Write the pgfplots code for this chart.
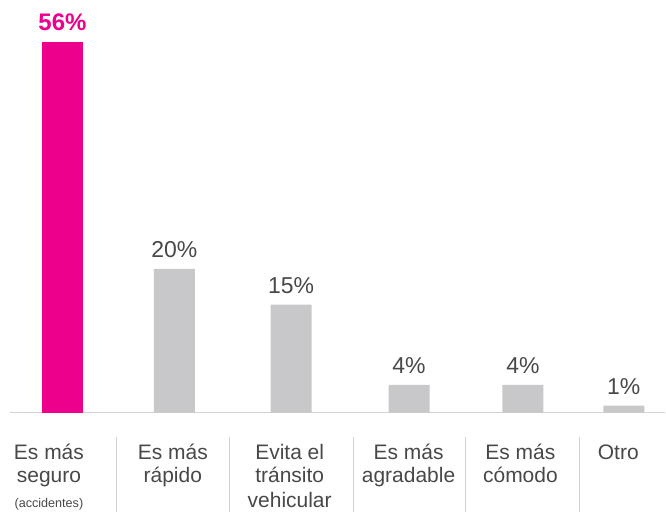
\documentclass[border=0pt]{standalone}
\usepackage{pgfplots}
\pgfplotsset{compat=1.18}
\usepackage{fontspec}
\setmainfont{Liberation Sans}
\definecolor{mag}{HTML}{EC008C}
\definecolor{barg}{HTML}{C8C8CA}
\definecolor{txt}{HTML}{484848}
\definecolor{linec}{HTML}{D2D2D2}
\begin{document}
\begin{tikzpicture}
\begin{axis}[
 width=333pt, height=256.5pt, scale only axis,
 xmin=0, xmax=666, ymin=-15.09, ymax=62.34,
 axis lines=none, clip=false,
 point meta=explicit symbolic,
 nodes near coords,
 every node near coord/.append style={anchor=base, yshift=5.5pt, inner sep=0pt, font=\fontsize{11.5}{12}\selectfont, text=txt},
]
\path (rel axis cs:0,0) rectangle (rel axis cs:1,1);
\draw[linec, line width=0.75pt] (axis cs:10,0) -- (axis cs:666,0);
\addplot[ybar, bar width=41, bar shift=0pt, fill=mag, draw=none,
  every node near coord/.append style={font=\bfseries\fontsize{12}{13}\selectfont, text=mag}]
  coordinates {(62.5,56) [56\%]};
\addplot[ybar, bar width=41, bar shift=0pt, fill=barg, draw=none]
  coordinates {(174.5,21.7) [20\%] (291.5,16.3) [15\%] (409.5,4.2) [4\%] (523.5,4.2) [4\%] (624.5,1.05) [1\%]};
\draw[linec, line width=0.6pt] (axis cs:116.5,-3.62) -- (axis cs:116.5,-15.09);
\draw[linec, line width=0.6pt] (axis cs:229.5,-3.62) -- (axis cs:229.5,-15.09);
\draw[linec, line width=0.6pt] (axis cs:353.5,-3.62) -- (axis cs:353.5,-15.09);
\draw[linec, line width=0.6pt] (axis cs:466,-3.62) -- (axis cs:466,-15.09);
\draw[linec, line width=0.6pt] (axis cs:580,-3.62) -- (axis cs:580,-15.09);
\tikzset{lab/.style={anchor=base, inner sep=0pt, text=txt, font=\fontsize{10.5}{12}\selectfont}}
\node[lab, yshift=-23.5pt] at (axis cs:49,0) {Es más};
\node[lab, yshift=-35pt] at (axis cs:49,0) {seguro};
\node[lab, yshift=-47.5pt, font=\fontsize{6.3}{7}\selectfont] at (axis cs:49,0) {(accidentes)};
\node[lab, yshift=-23.5pt] at (axis cs:173,0) {Es más};
\node[lab, yshift=-35pt] at (axis cs:173,0) {rápido};
\node[lab, yshift=-23.5pt] at (axis cs:290,0) {Evita el};
\node[lab, yshift=-35pt] at (axis cs:290,0) {tránsito};
\node[lab, yshift=-47.5pt] at (axis cs:290,0) {vehicular};
\node[lab, yshift=-23.5pt] at (axis cs:409,0) {Es más};
\node[lab, yshift=-35pt] at (axis cs:409,0) {agradable};
\node[lab, yshift=-23.5pt] at (axis cs:521,0) {Es más};
\node[lab, yshift=-35pt] at (axis cs:521,0) {cómodo};
\node[lab, yshift=-23.5pt] at (axis cs:619,0) {Otro};
\end{axis}
\end{tikzpicture}
\end{document}
